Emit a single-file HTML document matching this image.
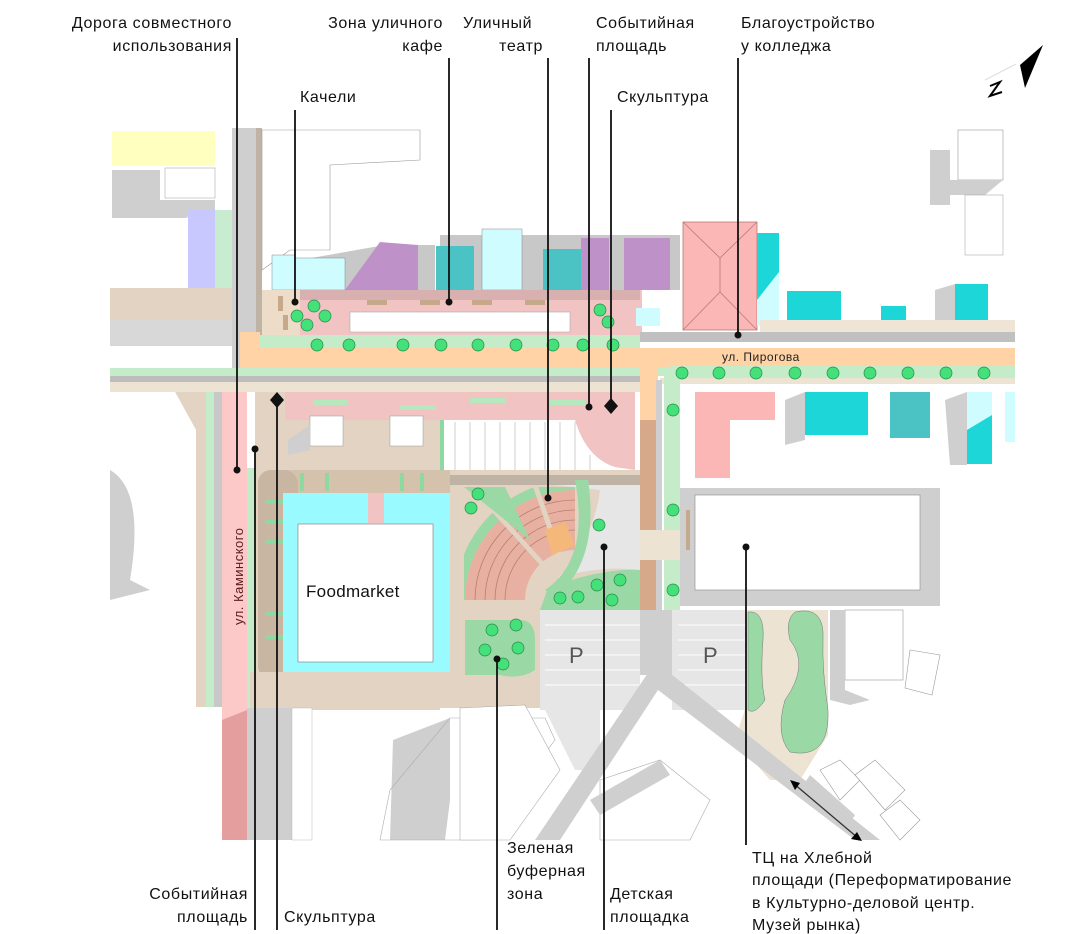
<!DOCTYPE html>
<html><head><meta charset="utf-8"><style>
html,body{margin:0;padding:0;background:#fff;}
svg{display:block;}
.t{font-family:"Liberation Sans","DejaVu Sans",sans-serif;font-size:16px;fill:#111;letter-spacing:0.6px;}
</style></head><body>
<svg width="1080" height="934" viewBox="0 0 1080 934" xmlns="http://www.w3.org/2000/svg">
<defs><clipPath id="amp"><rect x="464" y="487" width="176" height="123"/></clipPath></defs>
<rect width="1080" height="934" fill="#fff"/>
<rect x="112" y="131" width="103" height="35" fill="#ffffc0"/>
<polygon points="112,170 160,170 160,200 215,200 215,210 185,218 112,218" fill="#cfcfcf"/>
<rect x="165" y="168" width="50" height="30" fill="#fff" stroke="#999" stroke-width="0.5"/>
<rect x="188" y="210" width="28" height="80" fill="#c8c8ff"/>
<rect x="215" y="210" width="25" height="80" fill="#c8ecd0"/>
<rect x="110" y="288" width="130" height="58" fill="#e2d3c3"/>
<rect x="110" y="320" width="130" height="25" fill="#d8d8d8"/>
<rect x="232" y="128" width="28" height="240" fill="#cfcfcf"/>
<rect x="256" y="128" width="6" height="210" fill="#bfb3a6"/>
<polygon points="262,130 420,130 420,160 330,165 330,250 290,250 262,270" fill="#fff" stroke="#999" stroke-width="0.6"/>
<polygon points="300,260 385,245 435,245 435,290 300,290" fill="#c8c8c8"/>
<polygon points="440,235 680,235 680,290 440,290" fill="#c8c8c8"/>
<polygon points="272,255 295,255 295,258 345,258 345,290 272,290" fill="#cefcff" stroke="#888" stroke-width="0.5"/>
<polygon points="345,290 380,242 418,245 418,290" fill="#be92c8"/>
<rect x="436" y="246" width="38" height="44" fill="#4bc2c4"/>
<rect x="482" y="229" width="40" height="61" fill="#cefcff" stroke="#888" stroke-width="0.5"/>
<rect x="543" y="249" width="38" height="41" fill="#4bc2c4"/>
<rect x="581" y="238" width="28" height="52" fill="#be92c8"/>
<rect x="624" y="238" width="46" height="52" fill="#be92c8"/>
<rect x="958" y="130" width="45" height="50" fill="#fff" stroke="#999" stroke-width="0.6"/>
<polygon points="945,180 1003,180 985,195 945,195" fill="#cfcfcf"/>
<rect x="930" y="150" width="20" height="55" fill="#cfcfcf"/>
<rect x="965" y="195" width="38" height="60" fill="#fff" stroke="#999" stroke-width="0.5"/>
<rect x="683" y="222" width="74" height="108" fill="#fbb6b6" stroke="#b77" stroke-width="0.8"/>
<path d="M683,222 L720,258 M757,222 L720,258 L720,292 L683,330 M720,292 L757,330" stroke="#b77" stroke-width="0.8" fill="none"/>
<rect x="757" y="233" width="22" height="93" fill="#1dd6d8"/>
<polygon points="757,300 779,272 779,326 757,326" fill="#cefcff"/>
<rect x="787" y="291" width="54" height="36" fill="#1dd6d8"/>
<rect x="881" y="306" width="25" height="14" fill="#1dd6d8"/>
<rect x="955" y="284" width="33" height="42" fill="#1dd6d8"/>
<polygon points="935,290 955,284 955,326 935,326" fill="#cfcfcf"/>
<rect x="760" y="320" width="255" height="12" fill="#efe5d6"/>
<rect x="262" y="290" width="380" height="48" fill="#f2c3c3"/>
<rect x="262" y="290" width="38" height="48" fill="#ecdcc8"/>
<rect x="300" y="290" width="340" height="10" fill="#d8b0b0"/>
<rect x="350" y="312" width="220" height="20" fill="#fff" stroke="#aaa" stroke-width="0.6"/>
<rect x="636" y="308" width="24" height="18" fill="#cefcff"/>
<g fill="#c6a98a"><rect x="367" y="300" width="20" height="5"/><rect x="420" y="300" width="20" height="5"/><rect x="472" y="300" width="20" height="5"/><rect x="525" y="300" width="20" height="5"/><rect x="278" y="296" width="5" height="15"/><rect x="283" y="315" width="5" height="15"/></g>
<rect x="640" y="332" width="375" height="10" fill="#c0c0c0"/>
<rect x="245" y="335" width="395" height="14" fill="#c4ecc8"/>
<rect x="240" y="348" width="775" height="20" fill="#ffd3a5"/>
<rect x="240" y="332" width="20" height="36" fill="#ffd3a5"/>
<rect x="110" y="368" width="905" height="8" fill="#c4ecc8"/>
<rect x="110" y="376" width="530" height="6" fill="#bdbdbd"/>
<rect x="670" y="366" width="345" height="12" fill="#c4ecc8"/>
<rect x="110" y="382" width="530" height="10" fill="#ece3d3"/>
<rect x="660" y="378" width="355" height="6" fill="#ece3d3"/>
<text x="722" y="361" font-family="Liberation Sans,sans-serif" font-size="12" fill="#222" letter-spacing="0.5">ул. Пирогова</text>
<rect x="640" y="348" width="18" height="265" fill="#ffd3a5"/>
<rect x="640" y="420" width="18" height="190" fill="#d5a98a"/>
<rect x="664" y="375" width="16" height="235" fill="#c4ecc8"/>
<rect x="656" y="380" width="6" height="290" fill="#cfcfcf"/>
<path d="M285,392 L635,392 L635,470 L285,420 Z" fill="#f2c3c3"/>
<rect x="285" y="392" width="350" height="28" fill="#f2c3c3"/>
<rect x="368" y="392" width="18" height="130" fill="#f2c3c3"/>
<g fill="#b6e8be"><rect x="313" y="400" width="35" height="5"/><rect x="400" y="405" width="36" height="5"/><rect x="470" y="398" width="36" height="5"/><rect x="550" y="400" width="35" height="5"/></g>
<rect x="440" y="420" width="135" height="55" fill="#fff"/>
<path d="M575,420 Q590,470 635,470 L635,475 L575,475 Z" fill="#fff"/>
<path d="M440,420 L575,420 L440,440 Z" fill="#fff"/>
<g stroke="#cfcfcf" stroke-width="1"><line x1="455" y1="422" x2="455" y2="475"/><line x1="470" y1="422" x2="470" y2="475"/><line x1="485" y1="422" x2="485" y2="475"/><line x1="500" y1="422" x2="500" y2="475"/><line x1="515" y1="422" x2="515" y2="475"/><line x1="530" y1="422" x2="530" y2="475"/><line x1="545" y1="422" x2="545" y2="475"/><line x1="560" y1="422" x2="560" y2="475"/><line x1="575" y1="422" x2="575" y2="475"/><line x1="590" y1="455" x2="590" y2="475"/></g>
<rect x="437" y="420" width="7" height="50" fill="#8fd9a0"/>
<polygon points="112,392 175,392 196,430 200,707 215,707 215,392" fill="#e2d3c3"/>
<polygon points="110,392 175,392 196,430 196,707 110,707" fill="#fff"/>
<path d="M110,470 Q145,490 130,580 L150,590 L110,600 Z" fill="#cfcfcf"/>
<rect x="196" y="392" width="22" height="315" fill="#e2d3c3"/>
<rect x="206" y="392" width="10" height="315" fill="#c4ecc8"/>
<rect x="214" y="392" width="8" height="315" fill="#c8c8c8"/>
<rect x="222" y="392" width="25" height="448" fill="#fdc8c8"/>
<polygon points="222,720 247,710 247,840 222,840" fill="#e49e9e"/>
<text transform="translate(243,625) rotate(-90)" font-family="Liberation Sans,sans-serif" font-size="13" fill="#5a1a1a" letter-spacing="0.5">ул. Каминского</text>
<rect x="247" y="468" width="8" height="240" fill="#c4ecc8"/>
<rect x="255" y="392" width="30" height="316" fill="#e2d3c3"/>
<rect x="285" y="420" width="155" height="290" fill="#e2d3c3"/>
<rect x="310" y="416" width="33" height="30" fill="#fff" stroke="#999" stroke-width="0.5"/>
<rect x="390" y="416" width="33" height="30" fill="#fff" stroke="#999" stroke-width="0.5"/>
<polygon points="288,440 310,425 310,450 288,455" fill="#cfcfcf"/>
<rect x="258" y="470" width="215" height="28" rx="12" fill="#d5c2ad"/>
<rect x="258" y="470" width="40" height="210" rx="14" fill="#c8b5a2"/>
<g fill="#8fd9a0"><rect x="265" y="500" width="30" height="4"/><rect x="265" y="520" width="30" height="4"/><rect x="265" y="540" width="30" height="4"/><rect x="265" y="612" width="30" height="4"/><rect x="265" y="635" width="30" height="4"/><rect x="300" y="473" width="4" height="18"/><rect x="325" y="473" width="4" height="18"/><rect x="400" y="473" width="4" height="18"/><rect x="420" y="473" width="4" height="18"/></g>
<rect x="283" y="493" width="168" height="180" fill="#99fbff"/>
<rect x="368" y="493" width="16" height="30" fill="#f2c3c3"/>
<rect x="298" y="524" width="135" height="138" fill="#fff" stroke="#777" stroke-width="0.6"/>
<text x="306" y="597" font-family="Liberation Sans,sans-serif" font-size="17" fill="#111" letter-spacing="0.3">Foodmarket</text>
<rect x="250" y="672" width="290" height="36" fill="#e2d3c3"/>
<path d="M450,470 L640,470 L640,610 L540,610 L540,705 Q500,690 455,705 L450,705 Z" fill="#e2d3c3"/>
<rect x="450" y="475" width="190" height="10" fill="#bfb3a6"/>
<path d="M555,485 L640,485 L640,570 Q600,565 558,578 Q595,535 600,490 Z" fill="#e6e6e6"/>
<g clip-path="url(#amp)">
<path d="M455,600 A120,120 0 0 1 575,480 L575,490 A110,110 0 0 0 465,600 Z" fill="#9ad8a6"/>
<path d="M465,600 A110,110 0 0 1 575,490 L575,550 A50,50 0 0 0 525,600 Z" fill="#e8b0a0"/>
<g fill="none" stroke="#b58070" stroke-width="0.8"><path d="M475,600 A100,100 0 0 1 575,500"/><path d="M485,600 A90,90 0 0 1 575,510"/><path d="M495,600 A80,80 0 0 1 575,520"/><path d="M505,600 A70,70 0 0 1 575,530"/></g>
<g stroke="#e2d3c3" stroke-width="5"><line x1="575" y1="600" x2="480" y2="495"/><line x1="575" y1="600" x2="535" y2="485"/></g>
<path d="M464,487 L505,487 L530,540 Z" fill="#9ad8a6"/>
<polygon points="545,530 565,522 575,545 552,555" fill="#f3b87a"/>
</g>
<path d="M575,480 Q590,560 545,590 L555,598 Q600,560 588,480 Z" fill="#9ad8a6"/>
<path d="M548,588 Q600,568 640,570 L640,610 L540,610 Z" fill="#9ad8a6"/>
<path d="M465,620 L520,620 Q535,620 535,640 L535,670 Q520,680 500,675 L465,675 Z" fill="#9ad8a6"/>
<rect x="640" y="530" width="55" height="30" fill="#ece3d3"/>
<g fill="#44e07a" stroke="#2a8a4a" stroke-width="0.7">
<circle cx="478" cy="494" r="6"/><circle cx="471" cy="508" r="6"/>
<circle cx="492" cy="630" r="6"/><circle cx="516" cy="625" r="6"/><circle cx="485" cy="650" r="6"/><circle cx="518" cy="648" r="6"/><circle cx="503" cy="664" r="6"/>
<circle cx="599" cy="525" r="6"/><circle cx="560" cy="598" r="6"/><circle cx="578" cy="597" r="6"/><circle cx="597" cy="585" r="6"/><circle cx="620" cy="580" r="6"/><circle cx="612" cy="600" r="6"/>
<circle cx="673" cy="410" r="6"/><circle cx="673" cy="510" r="6"/><circle cx="673" cy="590" r="6"/>
<circle cx="297" cy="316" r="6"/><circle cx="314" cy="306" r="6"/><circle cx="325" cy="316" r="6"/><circle cx="307" cy="325" r="6"/>
<circle cx="600" cy="310" r="6"/><circle cx="608" cy="322" r="6"/>
<circle cx="317" cy="345" r="6"/><circle cx="349" cy="345" r="6"/><circle cx="403" cy="345" r="6"/><circle cx="441" cy="345" r="6"/><circle cx="478" cy="345" r="6"/><circle cx="516" cy="345" r="6"/><circle cx="553" cy="345" r="6"/><circle cx="583" cy="345" r="6"/><circle cx="613" cy="345" r="6"/>
<circle cx="682" cy="373" r="6"/><circle cx="719" cy="373" r="6"/><circle cx="756" cy="373" r="6"/><circle cx="795" cy="373" r="6"/><circle cx="833" cy="373" r="6"/><circle cx="870" cy="373" r="6"/><circle cx="908" cy="373" r="6"/><circle cx="946" cy="373" r="6"/><circle cx="984" cy="373" r="6"/>
<circle cx="752" cy="717" r="6"/><circle cx="772" cy="734" r="6"/><circle cx="795" cy="750" r="6"/>
</g>
<polygon points="695,392 775,392 775,420 730,420 730,478 710,478 695,478" fill="#fbb6b6"/>
<rect x="805" y="392" width="63" height="43" fill="#1dd6d8"/>
<rect x="890" y="392" width="40" height="46" fill="#4bc2c4"/>
<rect x="967" y="392" width="25" height="72" fill="#1dd6d8"/>
<polygon points="967,392 992,392 992,415 967,430" fill="#cefcff"/>
<polygon points="945,400 967,392 967,465 950,465" fill="#cfcfcf"/>
<polygon points="785,400 805,392 805,440 785,445" fill="#cfcfcf"/>
<rect x="1005" y="392" width="10" height="50" fill="#cefcff"/>
<rect x="680" y="488" width="260" height="118" fill="#cfcfcf"/>
<rect x="695" y="495" width="225" height="95" fill="#fff" stroke="#888" stroke-width="0.6"/>
<rect x="686" y="510" width="4" height="40" fill="#c6a98a"/>
<rect x="540" y="610" width="100" height="100" fill="#e6e6e6"/>
<polygon points="540,700 600,700 600,770 575,770" fill="#e6e6e6"/>
<rect x="672" y="610" width="76" height="100" fill="#e6e6e6"/>
<g stroke="#fff" stroke-width="1"><line x1="545" y1="625" x2="640" y2="625"/><line x1="545" y1="640" x2="640" y2="640"/><line x1="545" y1="655" x2="640" y2="655"/><line x1="545" y1="670" x2="640" y2="670"/><line x1="545" y1="685" x2="640" y2="685"/><line x1="678" y1="625" x2="745" y2="625"/><line x1="678" y1="640" x2="745" y2="640"/><line x1="678" y1="655" x2="745" y2="655"/><line x1="678" y1="670" x2="745" y2="670"/><line x1="678" y1="685" x2="745" y2="685"/></g>
<text x="569" y="663" font-family="Liberation Sans,sans-serif" font-size="22" fill="#555">P</text>
<text x="703" y="663" font-family="Liberation Sans,sans-serif" font-size="22" fill="#555">P</text>
<polygon points="748,610 828,610 828,735 800,780 770,780 735,740 748,700" fill="#ece3d3"/>
<path d="M748,612 Q765,610 763,640 Q760,680 765,700 Q755,715 748,710 Z" fill="#9ad8a6" stroke="#777" stroke-width="0.5"/>
<path d="M795,612 Q825,605 823,640 Q822,670 828,710 Q830,760 790,752 Q775,735 785,700 Q810,665 790,640 Q785,620 795,612 Z" fill="#9ad8a6" stroke="#777" stroke-width="0.5"/>
<rect x="845" y="610" width="58" height="70" fill="#fff" stroke="#999" stroke-width="0.6"/>
<polygon points="830,610 845,610 845,690 870,700 850,705 830,700" fill="#cfcfcf"/>
<polygon points="910,650 940,655 932,695 905,688" fill="#fff" stroke="#999" stroke-width="0.6"/>
<polygon points="650,670 666,670 880,840 855,840 658,690 560,840 535,840" fill="#cfcfcf"/>
<polygon points="640,610 672,610 672,675 640,675" fill="#cfcfcf"/>
<rect x="247" y="708" width="45" height="132" fill="#cfcfcf"/>
<polygon points="292,708 312,708 312,840 292,840" fill="#fff" stroke="#bbb" stroke-width="0.5"/>
<polygon points="393,740 450,718 450,800 445,840 390,840" fill="#cfcfcf"/>
<polygon points="380,840 390,790 450,718 545,718 555,740 480,840" fill="none" stroke="#aaa" stroke-width="0.6"/>
<polygon points="460,708 525,705 560,770 510,840 460,840" fill="#fff" stroke="#aaa" stroke-width="0.6"/>
<polygon points="600,780 660,760 710,800 690,840 600,840" fill="#fff" stroke="#aaa" stroke-width="0.6"/>
<polygon points="590,800 660,760 670,775 600,815" fill="#cfcfcf"/>
<polygon points="820,770 840,760 860,780 840,800" fill="#fff" stroke="#999" stroke-width="0.6"/>
<polygon points="855,775 875,760 905,790 885,810" fill="#fff" stroke="#999" stroke-width="0.6"/>
<polygon points="880,815 900,800 920,820 900,840" fill="#fff" stroke="#999" stroke-width="0.6"/>
<polygon points="810,775 855,815 845,830 800,790" fill="#cfcfcf"/>
<line x1="793" y1="783" x2="858" y2="838" stroke="#333" stroke-width="1.3"/>
<polygon points="790,780 800,783 795,790" fill="#000"/>
<polygon points="862,841 851,839 857,832" fill="#000"/>
<polygon points="1020,65 1043,45 1025,88" fill="#000"/>
<line x1="985" y1="80" x2="1016" y2="64" stroke="#ddd" stroke-width="1"/>
<path d="M990,86 L1000,82 L990,96 L1002,92" fill="none" stroke="#000" stroke-width="2"/>
<g stroke="#111" stroke-width="1.8" fill="none">
<line x1="237" y1="38" x2="237" y2="470"/>
<line x1="295" y1="110" x2="295" y2="302"/>
<line x1="449" y1="58" x2="449" y2="302"/>
<line x1="548" y1="58" x2="548" y2="498"/>
<line x1="589" y1="58" x2="589" y2="407"/>
<line x1="611" y1="110" x2="611" y2="406"/>
<line x1="738" y1="58" x2="738" y2="335"/>
<line x1="255" y1="449" x2="255" y2="930"/>
<line x1="277" y1="400" x2="277" y2="930"/>
<line x1="497" y1="659" x2="497" y2="930"/>
<line x1="604" y1="547" x2="604" y2="930"/>
<line x1="746" y1="547" x2="746" y2="845"/>
</g>
<g fill="#111">
<circle cx="237" cy="470" r="3.5"/><circle cx="295" cy="302" r="3.5"/><circle cx="449" cy="302" r="3.5"/><circle cx="548" cy="498" r="3.5"/><circle cx="589" cy="407" r="3.5"/><circle cx="738" cy="335" r="3.5"/><circle cx="255" cy="449" r="3.5"/><circle cx="497" cy="659" r="3.5"/><circle cx="604" cy="547" r="3.5"/><circle cx="746" cy="547" r="3.5"/>
<polygon points="611,398 618,406 611,414 604,406"/><polygon points="277,392 284,400 277,408 270,400"/>
</g>
<text class="t" x="232" y="28" text-anchor="end">Дорога совместного</text>
<text class="t" x="232" y="51" text-anchor="end">использования</text>
<text class="t" x="443" y="28" text-anchor="end">Зона уличного</text>
<text class="t" x="443" y="51" text-anchor="end">кафе</text>
<text class="t" x="463" y="28">Уличный</text>
<text class="t" x="543" y="51" text-anchor="end">театр</text>
<text class="t" x="596" y="28">Событийная</text>
<text class="t" x="596" y="51">площадь</text>
<text class="t" x="741" y="28">Благоустройство</text>
<text class="t" x="741" y="51">у колледжа</text>
<text class="t" x="300" y="102">Качели</text>
<text class="t" x="617" y="102">Скульптура</text>
<text class="t" x="248" y="899" text-anchor="end">Событийная</text>
<text class="t" x="248" y="922" text-anchor="end">площадь</text>
<text class="t" x="284" y="922">Скульптура</text>
<text class="t" x="507" y="853">Зеленая</text>
<text class="t" x="507" y="876">буферная</text>
<text class="t" x="507" y="899">зона</text>
<text class="t" x="610" y="899">Детская</text>
<text class="t" x="610" y="922">площадка</text>
<text class="t" x="752" y="863">ТЦ на Хлебной</text>
<text class="t" x="752" y="885">площади (Переформатирование</text>
<text class="t" x="752" y="908">в Культурно-деловой центр.</text>
<text class="t" x="752" y="930">Музей рынка)</text>
</svg>
</body></html>
